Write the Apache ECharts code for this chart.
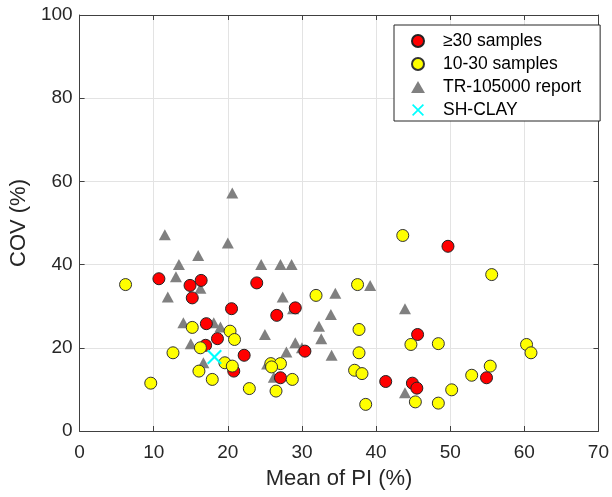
<!DOCTYPE html>
<html>
<head>
<meta charset="utf-8">
<script src="https://cdn.jsdelivr.net/npm/echarts@6/dist/echarts.min.js"></script>
<style>
html,body{margin:0;padding:0;background:#fff;}
#chart{width:612px;height:497px;}
</style>
</head>
<body>
<div id="chart"></div>
<script>
// Series names
var seriesNames = ['\u226530 samples', '10-30 samples', 'TR-105000 report', 'SH-CLAY'];

// >=30 samples: [mean PI (%), COV (%)]
var redPoints = [
  [10.7, 36.6], [14.9, 35.0], [16.4, 36.2], [15.2, 32.0], [20.5, 29.4],
  [23.9, 35.6], [17.1, 25.8], [18.6, 22.2], [17.0, 20.6], [22.2, 18.2],
  [20.8, 14.4], [29.1, 29.6], [26.6, 27.8], [30.4, 19.2], [27.1, 12.8],
  [41.3, 11.9], [44.9, 11.5], [45.5, 10.3], [45.6, 23.2], [49.7, 44.4],
  [54.9, 12.8]
];

// 10-30 samples
var yellowPoints = [
  [6.2, 35.2], [15.2, 24.9], [20.3, 24.0], [20.9, 22.0], [16.3, 20.0],
  [12.6, 18.8], [19.6, 16.4], [20.6, 15.6], [16.1, 14.4], [17.9, 12.4],
  [9.6, 11.5], [22.9, 10.2], [43.6, 47.0], [37.5, 35.2], [31.9, 32.6],
  [37.7, 24.4], [44.7, 20.8], [37.7, 18.8], [25.8, 16.2], [27.1, 16.2],
  [25.9, 15.4], [28.7, 12.4], [37.1, 14.6], [38.1, 13.8], [26.5, 9.6],
  [38.6, 6.4], [45.3, 7.0], [55.6, 37.6], [48.4, 21.0], [60.3, 20.8],
  [60.9, 18.8], [55.4, 15.6], [52.9, 13.4], [50.2, 9.9], [48.4, 6.7]
];

// TR-105000 report
var trianglePoints = [
  [20.6, 57.2], [11.5, 47.2], [20.0, 45.2], [16.0, 42.2], [13.4, 40.0],
  [24.5, 40.0], [27.1, 40.0], [28.6, 40.0], [13.0, 37.1], [16.3, 34.3],
  [11.9, 32.2], [14.0, 26.0], [18.1, 26.0], [19.0, 25.0], [15.0, 21.0],
  [16.7, 16.4], [27.4, 32.2], [34.5, 33.1], [39.2, 35.0], [43.9, 29.4],
  [28.8, 29.4], [33.9, 28.0], [32.3, 25.2], [25.0, 23.2], [32.6, 22.2],
  [29.1, 21.2], [30.0, 20.0], [27.9, 19.0], [34.0, 18.2], [25.3, 16.1],
  [26.2, 12.9], [43.9, 9.2]
];

// SH-CLAY
var clayPoints = [[18.2, 17.8]];

var xTicks = {min: 0, max: 70, interval: 10};
var yTicks = {min: 0, max: 100, interval: 20};

var FONT = '"Liberation Sans", Arial, Helvetica, sans-serif';
var TXT = '#262626';
var AX = '#404040';
var xShape = 'path://M2,0L10,8L18,0L20,2L12,10L20,18L18,20L10,12L2,20L0,18L8,10L0,2Z';
var triShape = 'path://M6,0L12,10.4L0,10.4Z';

var chart = echarts.init(document.getElementById('chart'), null, {renderer: 'canvas'});

function baseAxis(t) {
  return {
    type: 'value', min: t.min, max: t.max, interval: t.interval,
    axisLine: {show: true, onZero: false, lineStyle: {color: AX, width: 1}},
    axisTick: {show: true, inside: true, length: 5, lineStyle: {color: AX}},
    splitLine: {show: false}
  };
}

var xMain = baseAxis(xTicks);
xMain.position = 'bottom';
xMain.name = 'Mean of PI (%)';
xMain.nameLocation = 'middle';
xMain.nameGap = 37;
xMain.nameTextStyle = {fontSize: 22, color: TXT, fontFamily: FONT};
xMain.axisLabel = {fontSize: 19, color: TXT, fontFamily: FONT, margin: 12};
xMain.splitLine = {show: true, lineStyle: {color: '#e3e3e3', width: 1}};

var xTop = baseAxis(xTicks);
xTop.position = 'top';
xTop.axisLabel = {show: false};

var yMain = baseAxis(yTicks);
yMain.position = 'left';
yMain.name = 'COV (%)';
yMain.nameLocation = 'middle';
yMain.nameGap = 36;
yMain.nameTextStyle = {fontSize: 22, color: TXT, fontFamily: FONT};
yMain.axisLabel = {fontSize: 19, color: TXT, fontFamily: FONT, margin: 7};
yMain.splitLine = {show: true, lineStyle: {color: '#e3e3e3', width: 1}};

var yRight = baseAxis(yTicks);
yRight.position = 'right';
yRight.axisLabel = {show: false};

var option = {
  backgroundColor: '#fff',
  animation: false,
  grid: {left: 79, top: 15, right: 12, bottom: 66, containLabel: false},
  xAxis: [xMain, xTop],
  yAxis: [yMain, yRight],
  legend: {
    data: [
      {name: seriesNames[0]},
      {name: seriesNames[1]},
      {name: seriesNames[2], icon: triShape},
      {name: seriesNames[3]}
    ],
    orient: 'vertical',
    left: 394, top: 25,
    padding: [7, 19, 2, 17],
    itemWidth: 40, itemHeight: 12, itemGap: 5,
    symbolKeepAspect: true,
    backgroundColor: '#fff',
    borderColor: '#262626', borderWidth: 1, borderRadius: 0,
    textStyle: {fontSize: 17.5, color: '#000', fontFamily: FONT}
  },
  series: [
    {
      name: seriesNames[2], type: 'scatter', data: trianglePoints, z: 2,
      symbol: 'triangle', symbolSize: [12, 11],
      itemStyle: {color: '#808080', opacity: 1}
    },
    {
      name: seriesNames[0], type: 'scatter', data: redPoints, z: 3,
      symbol: 'circle', symbolSize: 12,
      itemStyle: {color: '#ff0000', borderColor: '#222', borderWidth: 1, opacity: 1}
    },
    {
      name: seriesNames[1], type: 'scatter', data: yellowPoints, z: 4,
      symbol: 'circle', symbolSize: 12,
      itemStyle: {color: '#ffff00', borderColor: '#333', borderWidth: 1, opacity: 1}
    },
    {
      name: seriesNames[3], type: 'scatter', data: clayPoints, z: 5,
      symbol: xShape, symbolSize: 15, symbolKeepAspect: true,
      itemStyle: {color: '#00ffff', opacity: 1}
    }
  ]
};
chart.setOption(option);
</script>
</body>
</html>
